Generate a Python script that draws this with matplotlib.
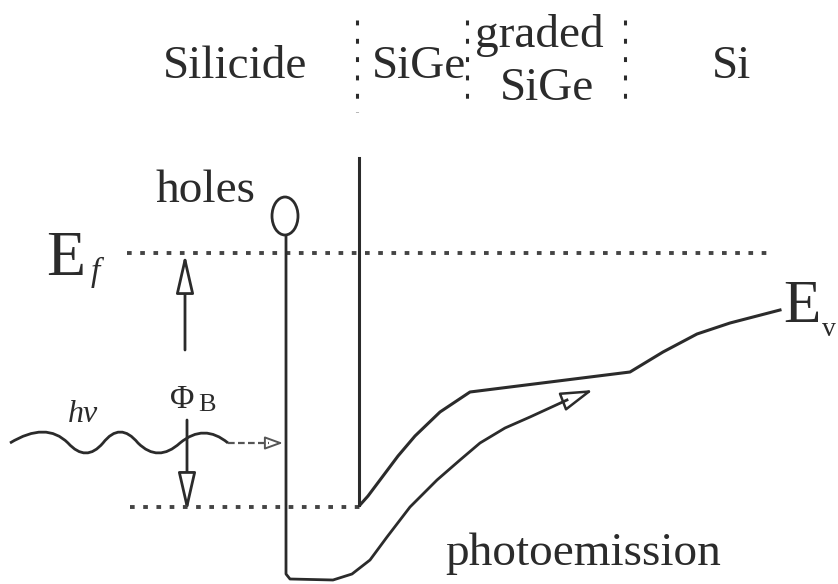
import matplotlib
matplotlib.use("Agg")
import matplotlib.pyplot as plt
from matplotlib.path import Path
from matplotlib.patches import PathPatch, FancyArrowPatch, Ellipse

plt.rcParams['font.family'] = ['Liberation Serif', 'DejaVu Serif']

# layer names across the top
region_names = ["Silicide", "SiGe", "graded", "SiGe", "Si"]
region_x = [163, 372, 475, 500, 712]
region_base = [78, 78, 47, 100, 78]
separator_x = [357, 467, 625]
separator_top = [20, 20, 20]
separator_bot = [112, 110, 105]

# energy levels (picture coordinates, y grows downward)
ef_level = 253
ef_x = [127, 772]
barrier_level = 507
barrier_x = [130, 360]

# interface spike
spike_x = 359
spike_y = [158, 505]

# valence band edge Ev
ev_x = [360, 368, 380, 398, 415, 440, 458, 470, 550, 630, 663, 697, 730, 780]
ev_y = [505, 496, 480, 456, 436, 412, 400, 392, 382, 372, 352, 334, 323, 310]

# hole -> photoemission path
hole_center = (285, 216)
path_x = [286, 286, 290, 333, 352, 370, 387, 410, 437, 460, 480, 505, 530, 567]
path_y = [237, 574, 579, 580, 574, 560, 537, 507, 480, 460, 443, 428, 417, 400]
path_tip = (593, 390)

# photon wave (crossing nodes and bezier control points)
wave_nodes = [(10, 443), (68, 443), (103, 443), (138, 443), (180, 443), (228, 443)]
wave_ctrl = [(46, 421), (86, 463), (120, 421), (158, 463), (204, 423)]
photon_tip = (283, 443)

# barrier height arrows
phi_up = [(185, 350), (185, 254)]
phi_down = [(187, 420), (187, 512)]

ink = "#2b2b2b"

fig = plt.figure(figsize=(8.38, 5.84), dpi=100)
ax = fig.add_axes([0, 0, 1, 1])
ax.set_xlim(0, 838)
ax.set_ylim(584, 0)
ax.axis('off')

# top labels and separators
for name, x, yb in zip(region_names, region_x, region_base):
    ax.text(x, yb, name, fontsize=34, color=ink, ha='left', va='baseline')
for x, y0, y1 in zip(separator_x, separator_top, separator_bot):
    ax.plot([x, x], [y0, y1], color=ink, lw=2.2, linestyle=(0, (1.6, 4.4)))

# Fermi level and barrier level
ax.plot(ef_x, [ef_level, ef_level], color="#444444", lw=2.8, linestyle=(0, (1.2, 2.2)))
ax.plot(barrier_x, [barrier_level, barrier_level], color="#444444", lw=2.8,
        linestyle=(0, (1.2, 2.2)))

# spike and Ev
ax.plot([spike_x, spike_x], spike_y, color=ink, lw=2.2)
ax.plot(ev_x, ev_y, color=ink, lw=2.2, solid_joinstyle='round')

# hole and its path
ax.add_patch(Ellipse(hole_center, 26, 38, fill=False, ec=ink, lw=2.0))
ax.plot(path_x, path_y, color=ink, lw=2.0, solid_joinstyle='round')
ax.add_patch(FancyArrowPatch((path_x[-1], path_y[-1]), path_tip,
                             arrowstyle='-|>,head_length=20,head_width=6',
                             mutation_scale=1, shrinkA=0, shrinkB=0,
                             fc='white', ec=ink, lw=1.8))

# photon wave
verts = [wave_nodes[0]]
codes = [Path.MOVETO]
for c, n in zip(wave_ctrl, wave_nodes[1:]):
    verts += [c, n]
    codes += [Path.CURVE3, Path.CURVE3]
ax.add_patch(PathPatch(Path(verts, codes), fill=False, ec=ink, lw=2.0))
ax.plot([wave_nodes[-1][0], photon_tip[0] - 14], [wave_nodes[-1][1]] * 2,
        color="#555555", lw=1.6, linestyle=(0, (3, 1.5)))
ax.add_patch(FancyArrowPatch((photon_tip[0] - 15, photon_tip[1]), photon_tip,
                             arrowstyle='-|>,head_length=11,head_width=4',
                             mutation_scale=1, shrinkA=0, shrinkB=0,
                             fc='white', ec="#555555", lw=1.4))

# barrier height arrows
for (p0, p1) in (phi_up, phi_down):
    ax.add_patch(FancyArrowPatch(p0, p1,
                                 arrowstyle='-|>,head_length=24,head_width=5.5',
                                 mutation_scale=1, shrinkA=0, shrinkB=0,
                                 fc='white', ec=ink, lw=2.0))

# labels
ax.text(155, 202, "holes", fontsize=34, color=ink, va='baseline')
ax.text(445, 565, "photoemission", fontsize=34, color=ink, va='baseline')
ax.text(46, 275, "E", fontsize=46, color=ink, va='baseline')
ax.text(91, 281, "f", fontsize=24, color=ink, va='baseline', style='italic')
ax.text(783, 322, "E", fontsize=44, color=ink, va='baseline')
ax.text(822, 336, "v", fontsize=20, color=ink, va='baseline')
ax.text(68, 422, "hν", fontsize=23, color=ink, va='baseline', style='italic')
ax.text(170, 408, "Φ", fontsize=24, color=ink, va='baseline')
ax.text(198, 411, "B", fontsize=19, color=ink, va='baseline')

fig.savefig("out.png", dpi=100)
